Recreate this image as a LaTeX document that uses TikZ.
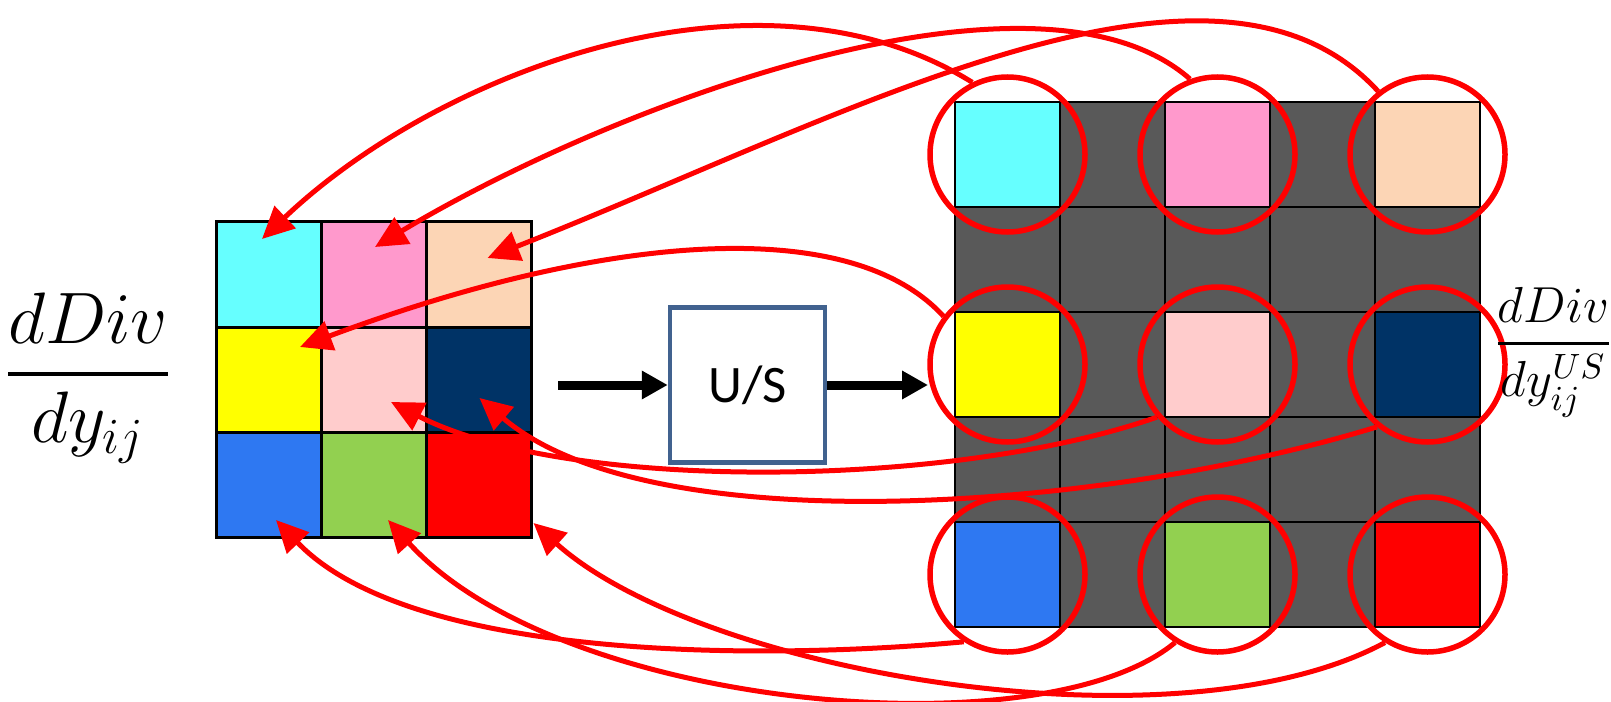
\documentclass[tikz,border=0pt]{standalone}
\usepackage{amsmath}
\usepackage{fontspec}
\newfontfamily\usfont{Carlito}
\usetikzlibrary{arrows.meta}
\definecolor{cyanc}{HTML}{66FFFF}
\definecolor{pinkc}{HTML}{FF99CC}
\definecolor{peachc}{HTML}{FCD5B5}
\definecolor{yellowc}{HTML}{FFFF00}
\definecolor{lpinkc}{HTML}{FFCCCC}
\definecolor{navyc}{HTML}{003366}
\definecolor{bluec}{HTML}{2E78F2}
\definecolor{greenc}{HTML}{92D050}
\definecolor{redc}{HTML}{FF0000}
\definecolor{grayc}{HTML}{595959}
\definecolor{boxc}{HTML}{41628F}
\tikzset{
 cell/.style={draw=black,line width=0.03cm,minimum size=1.05cm,inner sep=0pt,outer sep=0pt},
 ring/.style={circle,draw=red,line width=0.055cm,minimum size=1.55cm,inner sep=0pt},
 back/.style={red,line width=0.05cm,-{Triangle[length=0.32cm,width=0.30cm]}},
 feed/.style={black,line width=0.09cm,-{Triangle[length=0.26cm,width=0.27cm]}},
}
\begin{document}
\begin{tikzpicture}
 \useasboundingbox (0,0) rectangle (16.11,7.01);
 \foreach \r/\c/\col in {0/0/cyanc,0/1/pinkc,0/2/peachc,1/0/yellowc,1/1/lpinkc,1/2/navyc,2/0/bluec,2/1/greenc,2/2/redc}
  \node[cell,fill=\col] (L-\r-\c) at ({2.685+1.05*\c},{4.265-1.05*\r}) {};
 \foreach \r in {0,...,4}
  \foreach \c in {0,...,4}
   \node[cell,line width=0.02cm,fill=grayc] (R-\r-\c) at ({10.075+1.05*\c},{5.465-1.05*\r}) {};
 \foreach \r/\c/\col in {0/0/cyanc,0/2/pinkc,0/4/peachc,2/0/yellowc,2/2/lpinkc,2/4/navyc,4/0/bluec,4/2/greenc,4/4/redc}{
  \node[cell,line width=0.02cm,fill=\col] at (R-\r-\c) {};
  \node[ring] (C-\r-\c) at (R-\r-\c) {};
 }
 \node[draw=boxc,line width=0.045cm,minimum size=1.55cm,inner sep=0pt] (us) at (7.475,3.16) {\usfont\fontsize{15}{18}\selectfont U/S};
 \coordinate (in) at (5.58,3.16);
 \coordinate (out) at (9.28,3.16);
 \draw[feed] (in) -- (us);
 \draw[feed] (us) -- (out);
 \draw[back] (C-0-0.116) .. controls +(-2.12,1.32) and +(1.78,1.69) .. ([shift={(-0.065,0.355)}]L-0-0.center);
 \draw[back] (C-0-2.110) .. controls +(-1.50,1.32) and +(2.45,1.47) .. ([shift={(0.015,0.275)}]L-0-1.center);
 \draw[back] (C-0-4.128) .. controls +(-1.65,1.80) and +(3.55,1.40) .. ([shift={(0.09,0.165)}]L-0-2.center);
 \draw[back] (C-2-0.143) .. controls +(-0.95,1.04) and +(3.00,1.12) .. ([shift={(0.315,0.325)}]L-1-0.center);
 \draw[back] (C-2-2.221) .. controls +(-2.06,-0.72) and +(1.75,-0.90) .. ([shift={(0.175,-0.225)}]L-1-1.center);
 \draw[back] (C-2-4.231) .. controls +(-2.77,-0.85) and +(1.70,-1.45) .. ([shift={(0.01,-0.185)}]L-1-2.center);
 \draw[back] (C-4-0.237) .. controls +(-2.05,-0.19) and +(1.34,-1.40) .. ([shift={(0.075,-0.355)}]L-2-0.center);
 \draw[back] (C-4-2.238) .. controls +(-1.32,-1.10) and +(1.72,-1.90) .. ([shift={(0.145,-0.355)}]L-2-1.center);
 \draw[back] (C-4-4.238) .. controls +(-2.08,-1.12) and +(1.67,-1.50) .. ([shift={(0.55,-0.385)}]L-2-2.center);
 \node (lhs) at (0.88,3.23) {\fontsize{20}{24}\selectfont$\genfrac{}{}{1.1pt}{0}{dDiv}{dy_{ij}}$};
 \node[anchor=west,inner sep=0pt] (rhs) at (14.93,3.49) {\fontsize{14.5}{17}\selectfont$\genfrac{}{}{0.9pt}{0}{dDiv}{dy^{US}_{ij}}$};
\end{tikzpicture}
\end{document}
